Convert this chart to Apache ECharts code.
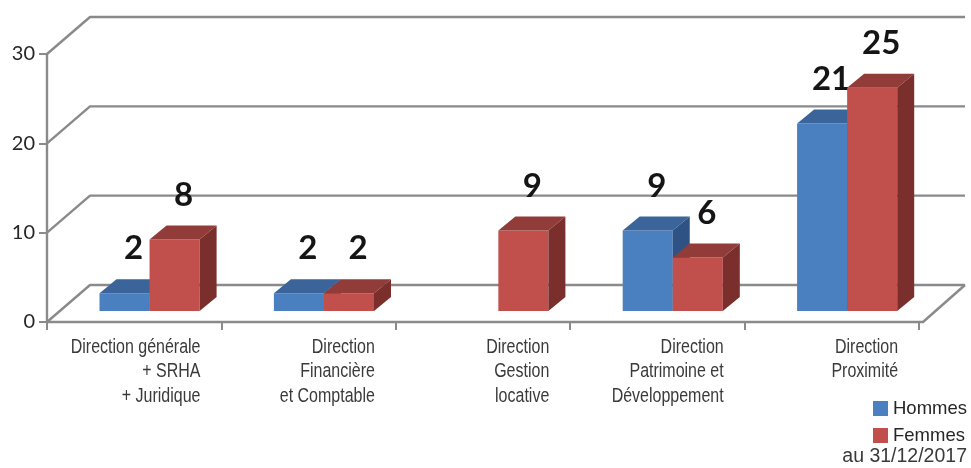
<!DOCTYPE html>
<html>
<head>
<meta charset="utf-8">
<script src="https://cdn.jsdelivr.net/npm/echarts@6/dist/echarts.min.js"></script>
<style>
  html, body { margin: 0; padding: 0; background: #ffffff; }
  #chart { width: 971px; height: 468px; }
</style>
</head>
<body>
<div id="chart"></div>
<script>
// Effectifs par direction, hommes / femmes
const categories = [
  'Direction générale\n+ SRHA\n+ Juridique',
  'Direction\nFinancière\net Comptable',
  'Direction\nGestion\nlocative',
  'Direction\nPatrimoine et\nDéveloppement',
  'Direction\nProximité'
];
const hommes = [2, 2, 0, 9, 21];
const femmes = [8, 2, 9, 6, 25];
const yTicks = [0, 10, 20, 30];
const seriesNames = ['Hommes', 'Femmes'];
const dateNote = 'au 31/12/2017';

// Pseudo-3D projection settings (pixels)
const WALL_DX = 43, WALL_DY = -37;      // depth of the back wall
const BAR_PLANE_DY = -11;               // bars sit a little behind the front edge
const BAR_DX = 17, BAR_DY = -14;        // bar depth
const GRID_COLOR = '#8a8a8a';

const SANS = '"Liberation Sans", Arial, sans-serif';
const NARROW_SCALE = 0.78;              // condensed look for the category names

const palette = {
  Hommes: { front: '#4a7fc0', top: '#3b659a', side: '#2d5283' },
  Femmes: { front: '#c14f4b', top: '#923c39', side: '#7b2f2d' }
};

const chart = echarts.init(document.getElementById('chart'), null, { renderer: 'canvas' });

function renderWalls(params, api) {
  const cs = params.coordSys;
  const x0 = cs.x, xEnd = cs.x + cs.width;
  const children = [];
  const line = (pts, w) => ({
    type: 'polyline',
    shape: { points: pts },
    style: { stroke: GRID_COLOR, lineWidth: w || 2.4, fill: null, lineJoin: 'round' },
    silent: true
  });
  const xFrontRight = xEnd + 4;
  const xBackRight = xFrontRight + 42;
  yTicks.forEach(v => {
    const y = api.coord([0, v])[1];
    children.push(line([[x0, y], [x0 + WALL_DX, y + WALL_DY], [xBackRight, y + WALL_DY]]));
  });
  const y0 = api.coord([0, 0])[1];
  children.push(line([[xEnd, y0], [xFrontRight, y0], [xBackRight, y0 + WALL_DY]]));
  return { type: 'group', children };
}

function makeBarRenderer(name) {
  const col = palette[name];
  const isLeft = name === 'Hommes';
  return function (params, api) {
    const idx = api.value(0);
    const v = api.value(1);
    if (!v) return null;
    const top = api.coord([idx, v]);
    const base = api.coord([idx, 0]);
    const band = api.size([1, 0])[0];
    const bw = band * 0.287;
    const mid = top[0] + band * 0.088;
    const xL = isLeft ? mid - bw : mid;
    const xR = xL + bw;
    const yT = top[1] + BAR_PLANE_DY;
    const yB = base[1] + BAR_PLANE_DY;
    return {
      type: 'group',
      children: [
        {
          type: 'rect',
          shape: { x: xL, y: yT, width: bw, height: yB - yT },
          style: { fill: col.front }
        },
        {
          type: 'polygon',
          shape: { points: [[xL, yT], [xR, yT], [xR + BAR_DX, yT + BAR_DY], [xL + BAR_DX, yT + BAR_DY]] },
          style: { fill: col.top }
        },
        {
          type: 'polygon',
          shape: { points: [[xR, yT], [xR + BAR_DX, yT + BAR_DY], [xR + BAR_DX, yB + BAR_DY], [xR, yB]] },
          style: { fill: col.side }
        },
        {
          type: 'text',
          z2: 10,
          style: {
            x: (xL + xR) / 2 + 9,
            y: yT + BAR_DY - 14,
            text: String(v),
            align: 'center',
            verticalAlign: 'bottom',
            font: 'bold 33px Lato, "Open Sans", sans-serif',
            fill: '#151515'
          }
        }
      ]
    };
  };
}

function renderCategoryLabel(params, api) {
  const idx = api.value(0);
  const p = api.coord([idx, 0]);
  const band = api.size([1, 0])[0];
  return {
    type: 'text',
    silent: true,
    x: p[0] + band * 0.38,
    y: p[1] + 13,
    scaleX: NARROW_SCALE,
    style: {
      x: 0,
      y: 0,
      text: categories[idx],
      align: 'right',
      verticalAlign: 'top',
      font: '20.5px ' + SANS,
      lineHeight: 24.5,
      fill: '#3a3a3a'
    }
  };
}

const option = {
  animation: false,
  backgroundColor: '#ffffff',
  grid: { left: 47, right: 52, top: 54, bottom: 146, containLabel: false },
  xAxis: {
    type: 'category',
    data: categories,
    boundaryGap: true,
    axisLine: { show: true, lineStyle: { color: GRID_COLOR, width: 2.4 } },
    axisTick: { show: true, length: 8, lineStyle: { color: GRID_COLOR, width: 2 } },
    axisLabel: { show: false },
    splitLine: { show: false }
  },
  yAxis: {
    type: 'value',
    min: yTicks[0],
    max: yTicks[yTicks.length - 1],
    interval: 10,
    axisLine: { show: true, lineStyle: { color: GRID_COLOR, width: 2.4 } },
    axisTick: { show: true, length: 8, lineStyle: { color: GRID_COLOR, width: 2 } },
    axisLabel: { margin: 12, color: '#262626', fontFamily: 'Lato', fontSize: 20 },
    splitLine: { show: false }
  },
  legend: {
    orient: 'vertical',
    right: 4,
    top: 399,
    padding: 0,
    itemGap: 8,
    itemWidth: 15,
    itemHeight: 15,
    icon: 'rect',
    align: 'left',
    data: seriesNames,
    textStyle: { fontFamily: SANS, fontSize: 18.5, color: '#262626' }
  },
  graphic: [
    {
      type: 'text',
      x: 967,
      y: 457,
      silent: true,
      style: {
        text: dateNote,
        align: 'right',
        verticalAlign: 'middle',
        font: '19.5px ' + SANS,
        fill: '#3a3a3a'
      }
    }
  ],
  series: [
    {
      type: 'custom',
      name: 'walls',
      silent: true,
      z: 1,
      data: [[0, 0]],
      renderItem: renderWalls
    },
    {
      type: 'custom',
      name: seriesNames[0],
      z: 3,
      itemStyle: { color: palette.Hommes.front },
      data: hommes.map((v, i) => [i, v]),
      renderItem: makeBarRenderer(seriesNames[0])
    },
    {
      type: 'custom',
      name: seriesNames[1],
      z: 4,
      itemStyle: { color: palette.Femmes.front },
      data: femmes.map((v, i) => [i, v]),
      renderItem: makeBarRenderer(seriesNames[1])
    },
    {
      type: 'custom',
      name: 'categories',
      silent: true,
      z: 2,
      data: categories.map((c, i) => [i, 0]),
      renderItem: renderCategoryLabel
    }
  ]
};

chart.setOption(option);
</script>
</body>
</html>
